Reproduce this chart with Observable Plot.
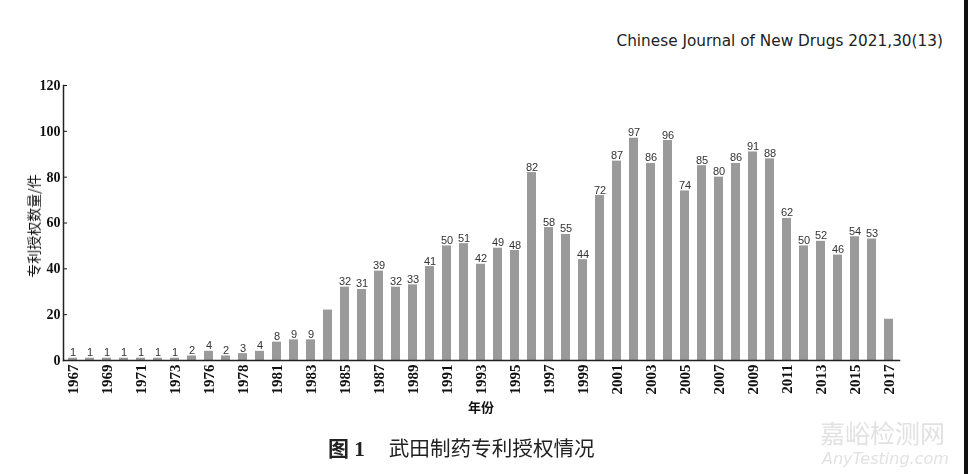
<!DOCTYPE html>
<html><head><meta charset="utf-8">
<script src="https://cdn.jsdelivr.net/npm/d3@7"></script>
<script src="https://cdn.jsdelivr.net/npm/@observablehq/plot@0.6"></script>
<style>
body{margin:0;background:#fff;}
#wrap{position:relative;width:968px;height:474px;overflow:hidden;background:#fff;}
.abs{position:absolute;white-space:nowrap;line-height:1;}
#chart{will-change:transform;}
</style>
</head><body>
<div id="wrap">
<div class="abs" id="hdr" style="right:25px;top:34px;font-family:'DejaVu Sans';font-size:15.3px;color:#222;">Chinese Journal of New Drugs 2021,30(13)</div>
<div id="chart" style="position:absolute;left:0;top:0;"></div>
<div class="abs" style="left:33px;top:226px;transform:translate(-50%,-50%) rotate(-90deg);font-family:'Noto Sans CJK SC';font-size:14px;color:#111;">专利授权数量/件</div>
<div class="abs" style="left:481px;top:406px;transform:translate(-50%,-50%);font-family:'Noto Sans CJK SC';font-weight:bold;font-size:13px;color:#111;">年份</div>
<div class="abs" style="left:328px;top:448px;transform:translateY(-50%);font-family:'Noto Sans CJK SC';font-size:20.6px;color:#222;"><b style="font-family:'Liberation Serif','Noto Sans CJK SC';font-size:21px;">图 1</b><span style="margin-left:24px;">武田制药专利授权情况</span></div>
<div class="abs" style="left:820px;top:419px;height:26px;font-family:'Noto Sans CJK SC';font-size:25px;line-height:26px;color:#e2e2e2;">嘉峪检测网</div>
<div class="abs" style="left:822px;top:451px;height:16px;font-family:'DejaVu Sans';font-style:italic;font-size:16px;line-height:16px;color:#e2e2e2;">AnyTesting.com</div>
<div style="position:absolute;left:964px;top:0;width:4px;height:474px;background:#111;"></div>
</div>
<script>
const years = ["1967","1968","1969","1970","1971","1972","1973","1975","1976","1977","1978","1980","1981","1982","1983","1984","1985","1986","1987","1988","1989","1990","1991","1992","1993","1994","1995","1996","1997","1998","1999","2000","2001","2002","2003","2004","2005","2006","2007","2008","2009","2010","2011","2012","2013","2014","2015","2016","2017"];
const values = [1,1,1,1,1,1,1,2,4,2,3,4,8,9,9,22,32,31,39,32,33,41,50,51,42,49,48,82,58,55,44,72,87,97,86,96,74,85,80,86,91,88,62,50,52,46,54,53,18];
const unlabeled = ["1984","2017"];
const tickYears = years.filter((d,i)=>i%2===0);
const yTicks = [0,20,40,60,80,100,120];

const data = years.map((y,i)=>({year:y, value:values[i]}));

const chart = Plot.plot({
  width: 968, height: 474,
  marginTop: 85, marginBottom: 114, marginLeft: 63, marginRight: 69,
  style: {background: "transparent", overflow: "visible"},
  x: {type: "band", domain: years, paddingInner: 0.47, paddingOuter: 0.2},
  y: {domain: [0,120]},
  marks: [
    Plot.barY(data, {x: "year", y: "value", fill: "#9a9a9a"}),
    Plot.text(data.filter(d=>!unlabeled.includes(d.year)), {x: "year", y: "value", text: d=>String(d.value), lineAnchor: "bottom", dy: -2, fontSize: 11, fontFamily: "Liberation Sans", fill: "#333"}),
    Plot.axisY({ticks: yTicks, tickSize: -4, tickPadding: 7, label: null, fontSize: 14, fontWeight: "bold", fontFamily: "Liberation Serif", color: "#111"}),
    Plot.axisX({ticks: tickYears, tickSize: 0, tickPadding: 4, tickRotate: -90, label: null, fontSize: 15, fontWeight: "bold", fontFamily: "Liberation Serif", color: "#111"}),
    Plot.frame({anchor: "left", stroke: "#222", strokeWidth: 1.5}),
    Plot.frame({anchor: "bottom", stroke: "#222", strokeWidth: 1.5})
  ]
});
document.getElementById("chart").appendChild(chart);
</script>
</body></html>
